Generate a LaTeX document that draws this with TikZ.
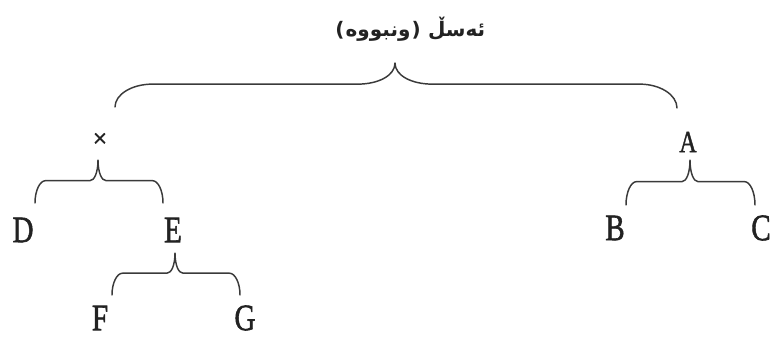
\documentclass[tikz,border=0pt]{standalone}
\usepackage{fontspec}
\usepackage{graphicx}
\setmainfont{Liberation Serif}
\newfontfamily\leaffont[FakeBold=1.5]{Liberation Serif}
\newfontfamily\arabicfont[Script=Arabic]{DejaVu Sans}
\newfontfamily\parenfont{DejaVu Sans}
\usetikzlibrary{calc}
\definecolor{ink}{HTML}{222222}
\definecolor{bracecol}{HTML}{3A3A3A}
\tikzset{
  leaf/.style={inner sep=0pt, text=ink, font=\leaffont\fontsize{28}{30}\selectfont},
  topnode/.style={inner sep=0pt, text=ink, font=\leaffont\fontsize{23}{25}\selectfont},
  ttl/.style={inner sep=0pt, text=ink, font=\fontsize{15}{17}\selectfont\bfseries},
  brc/.style={draw=bracecol, line width=1.1pt, line cap=round, line join=round},
}
\newcommand\treebrace[5]{%
  \draw[brc] let \p1=(#1), \p2=(#2), \p3=(#3), \n1={\y2+0.48*(\y1-\y2)} in
  (\p1) .. controls (\x1,{\n1+0.45*(\y1-\n1)}) and ({\x1+0.45*#4},\n1) .. ({\x1+#4},\n1)
  -- ({\x2-#5},\n1) .. controls ({\x2-0.45*#5},\n1) and (\x2,{\n1+0.4*(\y2-\n1)}) .. (\p2)
  .. controls (\x2,{\n1+0.4*(\y2-\n1)}) and ({\x2+0.45*#5},\n1) .. ({\x2+#5},\n1)
  -- ({\x3-#4},\n1) .. controls ({\x3-0.45*#4},\n1) and (\x3,{\n1+0.45*(\y3-\n1)}) .. (\p3);}
\begin{document}
\begin{tikzpicture}[x=0.75pt,y=-0.75pt]
\useasboundingbox (0,0) rectangle (772,337);
% title (right to left: first word at the right), one word per node
\node[ttl, anchor=base west] (ttlL) at (335,36) {\parenfont (};
\node[ttl, anchor=base west] (ttlB) at ([xshift=0.5pt]ttlL.base east) {\arabicfont ونبووە};
\node[ttl, anchor=base west] (ttlR) at ([xshift=0.5pt]ttlB.base east) {\parenfont )};
\node[ttl, anchor=base west] (ttlA) at ([xshift=5pt]ttlR.base east) {\arabicfont ئەسڵ};
% nodes
\node[inner sep=0pt, text=ink, font=\leaffont\fontsize{19}{21}\selectfont] (x) at (100,140) {\texttimes};
\node[topnode] (A) at (688,142) {\scalebox{0.78}[1]{A}};
\node[leaf] (D) at (23,230) {\scalebox{0.78}[1]{D}};
\node[leaf] (E) at (173,230) {\scalebox{0.78}[1]{E}};
\node[leaf] (F) at (100,318) {\scalebox{0.78}[1]{F}};
\node[leaf] (G) at (245,318) {\scalebox{0.78}[1]{G}};
\node[leaf] (B) at (615,228) {\scalebox{0.78}[1]{B}};
\node[leaf] (C) at (761,228) {\scalebox{0.78}[1]{C}};
% brace end points
\coordinate (t0) at (395,63);
\coordinate (l0) at (115,107);
\coordinate (r0) at (677,108);
\coordinate (t1) at (98,160);
\coordinate (l1) at (35,203);
\coordinate (r1) at (163,203);
\coordinate (t2) at (175,253);
\coordinate (l2) at (112,295);
\coordinate (r2) at (240,295);
\coordinate (t3) at (690,160);
\coordinate (l3) at (626,205);
\coordinate (r3) at (755,205);
% braces
\treebrace{l0}{t0}{r0}{28pt}{28pt}
\treebrace{l1}{t1}{r1}{8pt}{6pt}
\treebrace{l2}{t2}{r2}{8pt}{6pt}
\treebrace{l3}{t3}{r3}{8pt}{6pt}
\end{tikzpicture}
\end{document}
